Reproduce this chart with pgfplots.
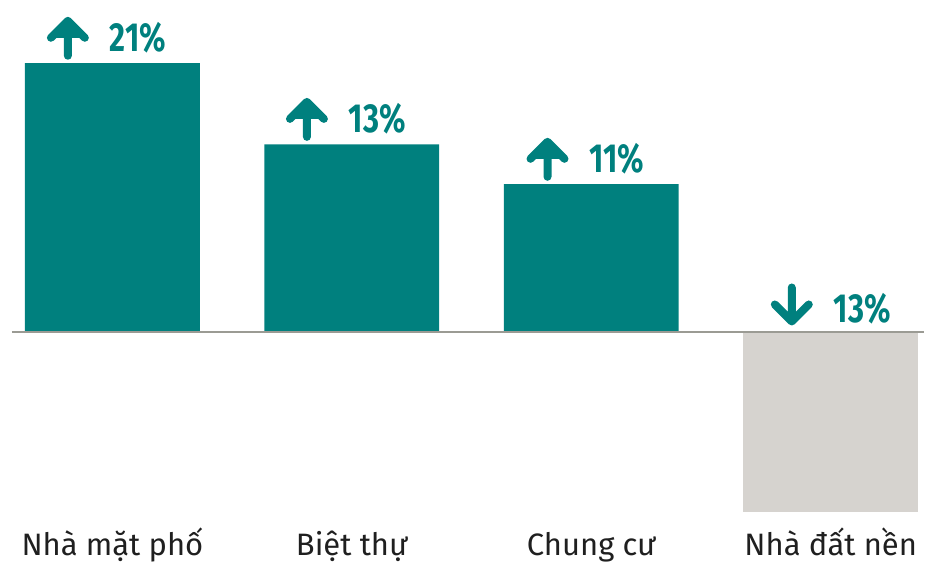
\documentclass[border=0pt]{standalone}
\usepackage{fontspec}
\setmainfont{Fira Sans}
\newfontfamily\numfont[FakeStretch=0.76]{Fira Sans}
\usepackage{pgfplots}
\pgfplotsset{compat=1.18}

\definecolor{tealbar}{RGB}{0,128,126}
\definecolor{graybar}{RGB}{214,211,207}
\definecolor{linegray}{RGB}{155,155,148}

% arrows drawn beside the percentage labels (canvas cs, so the axis does not transform them)
\newcommand{\uparr}{\tikz[baseline=2pt]\draw[tealbar,line width=4pt,line cap=round,line join=round]
  (canvas cs:x=0pt,y=0pt)--(canvas cs:x=0pt,y=17.5pt)
  (canvas cs:x=-8.5pt,y=9pt)--(canvas cs:x=0pt,y=17.5pt)--(canvas cs:x=8.5pt,y=9pt);}
\newcommand{\downarr}{\tikz[baseline=-0.5pt]\draw[tealbar,line width=4pt,line cap=round,line join=round]
  (canvas cs:x=0pt,y=0pt)--(canvas cs:x=0pt,y=17pt)
  (canvas cs:x=-8.5pt,y=8.5pt)--(canvas cs:x=0pt,y=0pt)--(canvas cs:x=8.5pt,y=8.5pt);}

\begin{document}
\begin{tikzpicture}
\begin{axis}[
    scale only axis,
    width=462.5pt, height=282.5pt,
    xmin=-0.4693, xmax=3.3897,
    ymin=-18.19, ymax=25.92,
    clip=false,
    axis line style={draw=none},
    major tick length=0pt,
    ytick=\empty,
    xtick={0,1,2,3},
    xticklabels={Nhà mặt phố, Biệt thự, Chung cư, Nhà đất nền},
    xticklabel style={anchor=base, yshift=4.5pt, text=black!88,
        font=\fontsize{15.5}{17}\selectfont},
]
% rising segments
\addplot[ybar, bar width=87.5pt, bar shift=0pt, fill=tealbar, draw=none,
    point meta=explicit symbolic,
    nodes near coords={\uparr\hspace{10.5pt}{\numfont\bfseries\pgfplotspointmeta\%}},
    every node near coord/.append style={anchor=south, inner sep=0pt,
        yshift=1.5pt, xshift=-3pt, text=tealbar,
        font=\fontsize{20.3}{22}\selectfont}]
    coordinates {(0,21) [21] (1,14.66) [13] (2,11.54) [11]};
% falling segment
\addplot[ybar, bar width=87.5pt, bar shift=0pt, fill=graybar, draw=none]
    coordinates {(3,-14.1)};
\addplot[draw=none, mark=none,
    point meta=explicit symbolic,
    nodes near coords={\downarr\hspace{10.5pt}{\numfont\bfseries\pgfplotspointmeta\%}},
    every node near coord/.append style={anchor=south, inner sep=0pt,
        yshift=3pt, text=tealbar,
        font=\fontsize{20.3}{22}\selectfont}]
    coordinates {(3,0) [13]};
\draw[linegray, line width=1pt] (axis cs:-0.4192,0) -- (axis cs:3.3897,0);
\end{axis}
\end{tikzpicture}
\end{document}
